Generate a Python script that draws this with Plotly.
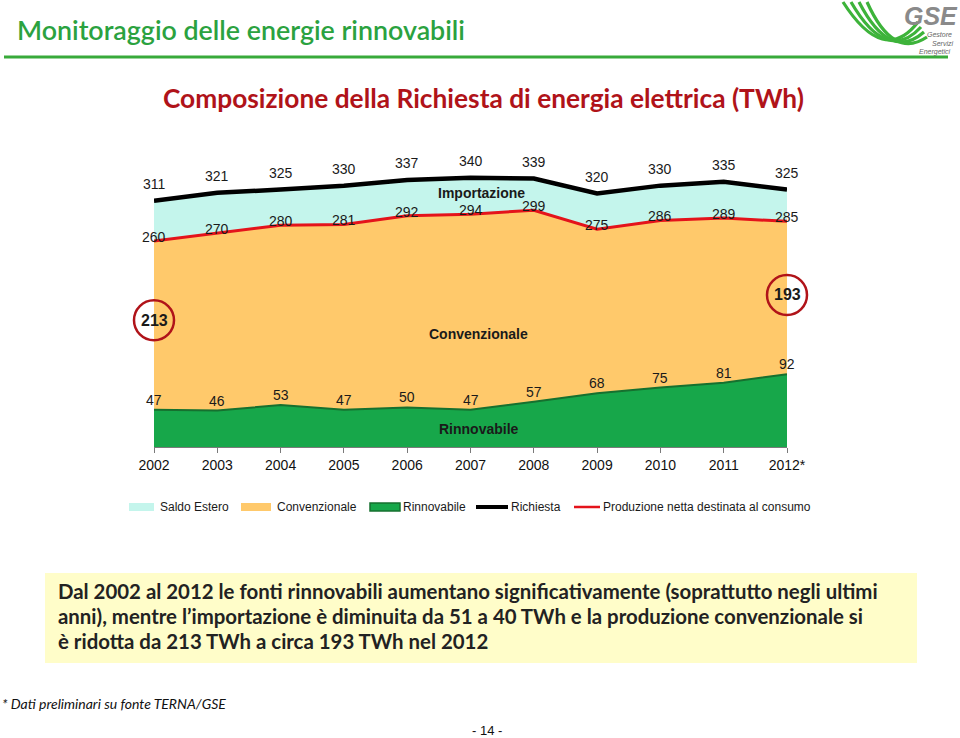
import plotly.graph_objects as go

# ---------------- data ----------------
years = [2002, 2003, 2004, 2005, 2006, 2007, 2008, 2009, 2010, 2011, 2012]
year_labels = ["2002", "2003", "2004", "2005", "2006", "2007", "2008", "2009", "2010", "2011", "2012*"]
richiesta = [311, 321, 325, 330, 337, 340, 339, 320, 330, 335, 325]
produzione = [260, 270, 280, 281, 292, 294, 299, 275, 286, 289, 285]
rinnovabile = [47, 46, 53, 47, 50, 47, 57, 68, 75, 81, 92]
convenzionale = [p - r for p, r in zip(produzione, rinnovabile)]
saldo_estero = [q - p for q, p in zip(richiesta, produzione)]

W, H = 960, 738
C_CYAN = "#C4F5EC"
C_ORANGE = "#FFC96B"
C_GREEN = "#17A74A"
C_DKGREEN = "#16702F"
C_RED = "#E4131B"
C_DKRED = "#B01319"
NUMFONT = dict(family="Liberation Sans, Arial", size=14, color="#1a1a1a")

fig = go.Figure()
fig.add_trace(go.Scatter(x=years, y=rinnovabile, stackgroup="s", mode="lines",
                         line=dict(color=C_DKGREEN, width=2), fillcolor=C_GREEN,
                         name="Rinnovabile", showlegend=False, hoverinfo="skip"))
fig.add_trace(go.Scatter(x=years, y=convenzionale, stackgroup="s", mode="lines",
                         line=dict(color=C_ORANGE, width=0), fillcolor=C_ORANGE,
                         name="Convenzionale", showlegend=False, hoverinfo="skip"))
fig.add_trace(go.Scatter(x=years, y=saldo_estero, stackgroup="s", mode="lines",
                         line=dict(color=C_CYAN, width=0), fillcolor=C_CYAN,
                         name="Saldo Estero", showlegend=False, hoverinfo="skip"))
fig.add_trace(go.Scatter(x=years, y=richiesta, mode="lines", line=dict(color="black", width=4.5),
                         name="Richiesta", showlegend=False, cliponaxis=False, hoverinfo="skip"))
fig.add_trace(go.Scatter(x=years, y=produzione, mode="lines", line=dict(color=C_RED, width=3),
                         name="Produzione netta destinata al consumo", showlegend=False,
                         cliponaxis=False, hoverinfo="skip"))

# plot area geometry (pixels)
x_left, x_right = 154, 787
y_bottom, y_top = 447, 150
Y_MAX = 375
fig.update_layout(
    width=W, height=H, margin=dict(l=0, r=0, t=0, b=0, autoexpand=False),
    paper_bgcolor="white", plot_bgcolor="rgba(0,0,0,0)",
    xaxis=dict(domain=[x_left / W, x_right / W], range=[2002, 2012], automargin=False,
               tickvals=years, ticktext=year_labels, showgrid=False, zeroline=False,
               showline=True, linecolor="#7a7a7a", linewidth=1,
               ticks="outside", ticklen=5, tickcolor="#7a7a7a",
               tickfont=dict(family="Liberation Sans, Arial", size=14, color="#111")),
    yaxis=dict(domain=[1 - y_bottom / H, 1 - y_top / H], range=[0, Y_MAX], automargin=False,
               visible=False, showgrid=False, zeroline=False),
    showlegend=False,
)

def px(x):
    return x / W

def py(y):
    return 1 - y / H

def data_to_paper(xv, yv):
    fx = (x_left + (xv - years[0]) / (years[-1] - years[0]) * (x_right - x_left)) / W
    fy = 1 - (y_bottom - yv / Y_MAX * (y_bottom - y_top)) / H
    return fx, fy

ann = []
# value labels
for x, v in zip(years, richiesta):
    ann.append(dict(x=x, y=v, xref="x", yref="y", text=str(v), showarrow=False,
                    yshift=17, font=NUMFONT))
for x, v in zip(years, produzione):
    ann.append(dict(x=x, y=v, xref="x", yref="y", text=str(v), showarrow=False,
                    yshift=4, font=NUMFONT))
for x, v in zip(years, rinnovabile):
    ann.append(dict(x=x, y=v, xref="x", yref="y", text=str(v), showarrow=False,
                    yshift=10, font=NUMFONT))

# series names inside areas
bold14 = dict(family="Liberation Sans, Arial", size=14, color="#1a1a1a")
ann.append(dict(x=2007.17, y=321, xref="x", yref="y", text="<b>Importazione</b>",
                showarrow=False, font=bold14))
ann.append(dict(x=2007.13, y=143, xref="x", yref="y", text="<b>Convenzionale</b>",
                showarrow=False, font=bold14))
ann.append(dict(x=2007.13, y=23, xref="x", yref="y", text="<b>Rinnovabile</b>",
                showarrow=False, font=bold14))

# circled conventional values
shapes = []
for xc, yc, val in [(years[0], 160, convenzionale[0]), (years[-1], 192, convenzionale[-1])]:
    fx, fy = data_to_paper(xc, yc)
    shapes.append(dict(type="circle", xref="paper", yref="paper", xsizemode="pixel", ysizemode="pixel",
                       xanchor=fx, yanchor=fy, x0=-20, x1=20, y0=-20, y1=20,
                       line=dict(color=C_DKRED, width=2.5), fillcolor="rgba(0,0,0,0)"))
    ann.append(dict(x=xc, y=yc, xref="x", yref="y", text=f"<b>{val}</b>", showarrow=False,
                    font=dict(family="Liberation Sans, Arial", size=16, color="#1a1a1a")))

# titles
ann.append(dict(x=px(15), y=py(30), xref="paper", yref="paper", xanchor="left", yanchor="middle",
                text="Monitoraggio delle energie rinnovabili", showarrow=False,
                font=dict(family="Lato", size=26.8, color="#2BA23F", weight=600)))
shapes.append(dict(type="line", xref="paper", yref="paper", x0=px(4), x1=px(948), y0=py(57), y1=py(57),
                   line=dict(color="#38AA3A", width=3)))
ann.append(dict(x=px(483), y=py(98), xref="paper", yref="paper", xanchor="center", yanchor="middle",
                text="<b>Composizione della Richiesta di energia elettrica (TWh)</b>", showarrow=False,
                font=dict(family="Lato", size=26.3, color=C_DKRED)))

# GSE logo (approximate)
for i, (sx, ex, ey) in enumerate([(843, 918, 22), (851, 921, 27), (859, 924, 32), (867, 927, 37)]):
    shapes.append(dict(type="path", xref="paper", yref="paper",
                       path=f"M {px(sx)} {py(2)} Q {px(884 + i * 3)} {py(66 - i * 2)} {px(ex)} {py(ey)}",
                       line=dict(color="#3DB33A", width=3.2)))
ann.append(dict(x=px(931), y=py(16), xref="paper", yref="paper", xanchor="center", yanchor="middle",
                text="<b><i>GSE</i></b>",
                showarrow=False, font=dict(family="Liberation Sans", size=25, color="#8a8a8a")))
for t, xx, yy in [("Gestore", 954, 34), ("Servizi", 955, 43), ("Energetici", 953, 52)]:
    ann.append(dict(x=px(xx), y=py(yy), xref="paper", yref="paper", xanchor="right", yanchor="middle",
                    text=f"<i>{t}</i>",
                    showarrow=False, font=dict(family="Liberation Sans", size=7, color="#666")))

# custom legend
leg_y = 507
legfont = dict(family="Liberation Sans, Arial", size=12, color="#1a1a1a")
legend_items = [
    ("Saldo Estero", "box", C_CYAN, None, 129, 154, 158),
    ("Convenzionale", "box", C_ORANGE, None, 241, 271, 275),
    ("Rinnovabile", "box", C_GREEN, C_DKGREEN, 370, 400, 401),
    ("Richiesta", "line", "black", None, 476, 508, 509),
    ("Produzione netta destinata al consumo", "line", C_RED, None, 574, 600, 601),
]
for name, kind, col, edge, a, b, tx in legend_items:
    if kind == "box":
        shapes.append(dict(type="rect", xref="paper", yref="paper", x0=px(a), x1=px(b),
                           y0=py(leg_y + 4), y1=py(leg_y - 4), fillcolor=col,
                           line=dict(color=edge if edge else col, width=1.5 if edge else 0)))
    else:
        shapes.append(dict(type="line", xref="paper", yref="paper", x0=px(a), x1=px(b),
                           y0=py(leg_y), y1=py(leg_y),
                           line=dict(color=col, width=4 if col == "black" else 2.5)))
    ann.append(dict(x=px(tx), y=py(leg_y), xref="paper", yref="paper", xanchor="left", yanchor="middle",
                    text=name, showarrow=False, font=legfont))

# yellow comment box
shapes.append(dict(type="rect", xref="paper", yref="paper", x0=px(45), x1=px(917), y0=py(663), y1=py(573),
                   fillcolor="#FFFDC9", line=dict(width=0), layer="below"))
box_lines = [
    "Dal 2002 al 2012 le fonti rinnovabili aumentano significativamente (soprattutto negli ultimi",
    "anni), mentre l’importazione è diminuita da 51 a 40 TWh e la produzione convenzionale si",
    "è ridotta da 213 TWh a circa 193 TWh nel 2012",
]
for t, yy in zip(box_lines, [591, 616, 641]):
    ann.append(dict(x=px(56), y=py(yy), xref="paper", yref="paper", xanchor="left", yanchor="middle",
                    text=f"<b>{t}</b>", showarrow=False,
                    font=dict(family="Lato", size=20.4, color="#222")))

# footnote and page number
ann.append(dict(x=px(0), y=py(703), xref="paper", yref="paper", xanchor="left", yanchor="middle",
                text="<i>* Dati preliminari su fonte TERNA/GSE</i>", showarrow=False,
                font=dict(family="Lato", size=14, color="#111")))
ann.append(dict(x=px(487), y=py(730), xref="paper", yref="paper", xanchor="center", yanchor="middle",
                text="- 14 -", showarrow=False,
                font=dict(family="Liberation Sans, Arial", size=13, color="#111")))

fig.update_layout(annotations=ann, shapes=shapes)
fig.write_html("out.html", config={"displayModeBar": False},
               post_script="document.body.style.margin='0';document.documentElement.style.overflow='hidden';")
